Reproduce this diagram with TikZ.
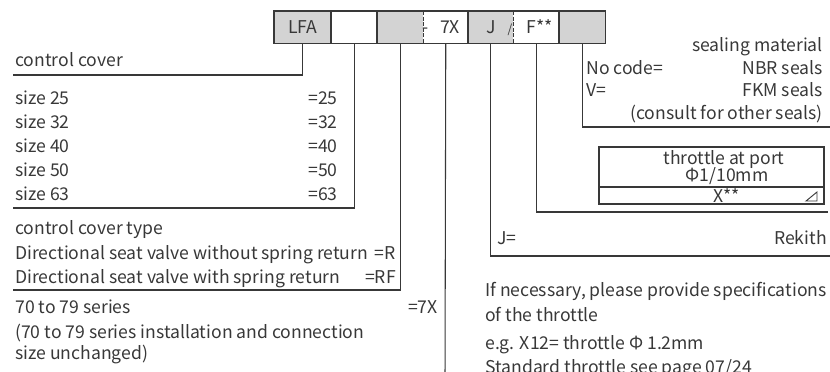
\documentclass[tikz,border=0pt]{standalone}
\usepackage{fontspec}
\setmainfont{Noto Sans CJK SC}
\definecolor{ink}{HTML}{383838}
\definecolor{cellgrey}{HTML}{D3D3D3}
\tikzset{
  cell/.style={anchor=north west, inner sep=0pt, minimum height=24pt, text=ink,
    font=\fontsize{13.2pt}{16pt}\selectfont},
  lead/.style={draw=ink, line width=0.8pt},
  lbl/.style={inner sep=0pt, text=ink, font=\fontsize{13.2pt}{16pt}\selectfont},
}
\begin{document}
\begin{tikzpicture}[x=0.75pt,y=-0.75pt]
  \clip (0,0) rectangle (830,371);

  \node[cell, fill=cellgrey, minimum width=42.75pt] (lfa)   at (274,11) {LFA};
  \node[cell, fill=white,    minimum width=34.5pt]  (size)  at (331,11) {};
  \node[cell, fill=cellgrey, minimum width=34.5pt]  (type)  at (377,11) {};
  \node[cell, fill=white,    minimum width=33.75pt] (series) at (423,11) {};
  \node[cell, fill=cellgrey, minimum width=33.75pt] (port)  at (468,11) {J};
  \node[cell, fill=white,    minimum width=34.5pt]  (thr)   at (513,11) {};
  \node[cell, fill=cellgrey, minimum width=34.5pt]  (seal)  at (559,11) {};

  \draw[lead, line width=1pt] (lfa.north west)    rectangle (lfa.south east);
  \draw[lead, line width=1pt] (size.north west)   rectangle (size.south east);
  \draw[lead, line width=1pt] (type.north west)   rectangle (series.south east);
  \draw[lead, line width=1pt] (port.north west)   rectangle (thr.south east);
  \draw[lead, line width=1pt] (seal.north west)   rectangle (seal.south east);
  \draw[lead, line width=1.3pt, dash pattern=on 3pt off 1.2pt] (type.north east) -- (type.south east);
  \draw[lead, line width=1.3pt, dash pattern=on 3pt off 1.2pt] (port.north east) -- (port.south east);

  \node[lbl, anchor=base]      (dash7x) at (426,33) {-};
  \node[lbl, anchor=base]      (sevx)   at (450,33) {7X};
  \node[lbl, anchor=base]      (slash)  at (510,33) {\fontsize{9pt}{9pt}\selectfont/};
  \node[lbl, anchor=base]      (fstar)  at (540,33) {F**};

  \coordinate (coverend)  at (13,75);
  \coordinate (sizeend)   at (13,208);
  \coordinate (typeend)   at (13,290);
  \coordinate (seriesend) at (445,380);
  \coordinate (portend)   at (832,256);
  \coordinate (thrend)    at (828,212);
  \coordinate (sealend)   at (832,127);

  \draw[lead] (lfa.south)    |- (coverend);
  \draw[lead] (size.south)   |- (sizeend);
  \draw[lead] (type.south)   |- (typeend);
  \draw[lead] (series.south) -- (seriesend);
  \draw[lead] (port.south)   |- (portend);
  \draw[lead] (thr.south)    |- (thrend);
  \draw[lead] (seal.south)   |- (sealend);

  \node[lbl, anchor=base west] (covertxt) at (15,66)  {control cover};
  \node[lbl, anchor=base west] (s25) at (15,104) {size 25};
  \node[lbl, anchor=base west] (s32) at (15,128) {size 32};
  \node[lbl, anchor=base west] (s40) at (15,152) {size 40};
  \node[lbl, anchor=base west] (s50) at (15,176) {size 50};
  \node[lbl, anchor=base west] (s63) at (15,200) {size 63};
  \node[lbl, anchor=base east] (c25) at (338,104) {=25};
  \node[lbl, anchor=base east] (c32) at (338,128) {=32};
  \node[lbl, anchor=base east] (c40) at (338,152) {=40};
  \node[lbl, anchor=base east] (c50) at (338,176) {=50};
  \node[lbl, anchor=base east] (c63) at (338,200) {=63};

  \node[lbl, anchor=base west] (typetxt) at (15,234) {control cover type};
  \node[lbl, anchor=base west] (without) at (15,259) {Directional seat valve without spring return};
  \node[lbl, anchor=base west] (with)    at (15,283) {Directional seat valve with spring return};
  \node[lbl, anchor=base east] (coder)   at (396,259) {=R};
  \node[lbl, anchor=base east] (coderf)  at (396,283) {=RF};

  \node[lbl, anchor=base west] (sertxt)  at (15,313) {70 to 79 series};
  \node[lbl, anchor=base east] (code7x)  at (438,313) {=7X};
  \node[lbl, anchor=base west] (install) at (15,338) {(70 to 79 series installation and connection};
  \node[lbl, anchor=base west] (unch)    at (15,359) {size unchanged)};

  \node[lbl, anchor=base east] (sealtxt) at (823,51)  {sealing material};
  \node[lbl, anchor=base west] (nocode)  at (586,74)  {No code=};
  \node[lbl, anchor=base east] (nbr)     at (823,74)  {NBR seals};
  \node[lbl, anchor=base west] (vcode)   at (586,96)  {V=};
  \node[lbl, anchor=base east] (fkm)     at (823,96)  {FKM seals};
  \node[lbl, anchor=base east] (consult) at (823,119) {(consult for other seals)};

  \draw[lead] (599,147) rectangle (824,204);
  \draw[lead] (599,187) -- (824,187);
  \node[lbl, anchor=base] (thrtxt) at (724,164) {throttle at port};
  \node[lbl, anchor=base] (thrdia) at (727,181) {Φ1/10mm};
  \node[lbl, anchor=base] (xstar)  at (727,202) {X**};
  \draw[ink, line width=0.7pt] (806,201) -- (817,201) -- (817,192) -- cycle;

  \node[lbl, anchor=base west] (jcode)  at (497,244) {J=};
  \node[lbl, anchor=base east] (rekith) at (827,244) {Rekith};

  \node[lbl, anchor=base west] (need)   at (485,296) {If necessary, please provide specifications};
  \node[lbl, anchor=base west] (ofthr)  at (485,321) {of the throttle};
  \node[lbl, anchor=base west] (eg)     at (485,349) {e.g. X12= throttle Φ 1.2mm};
  \node[lbl, anchor=base west] (std)    at (485,373) {Standard throttle see page 07/24};
\end{tikzpicture}
\end{document}
